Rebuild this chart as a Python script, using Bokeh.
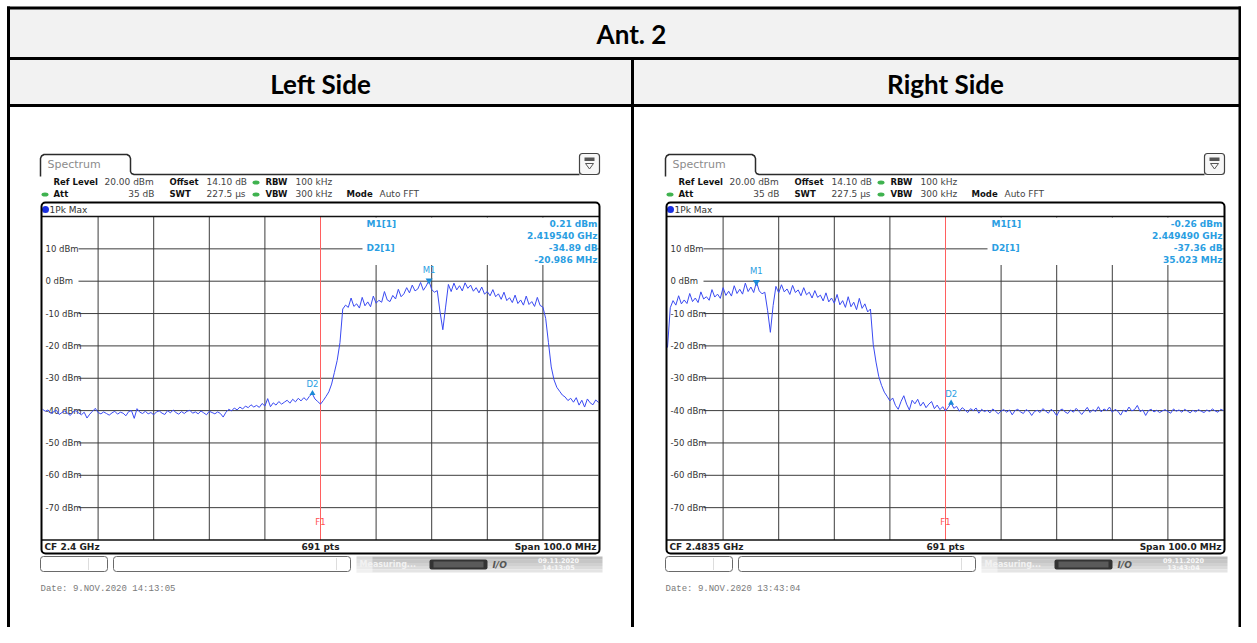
import numpy as np
from bokeh.plotting import figure
from bokeh.models import Range1d
from bokeh.core.properties import value
from bokeh.embed import file_html
from bokeh.resources import INLINE

# ---------------- data ----------------
TABLE_TITLE = "Ant. 2"
SIDE_TITLES = ["Left Side", "Right Side"]

SPANS_MHZ = [[2350.0, 2450.0], [2433.5, 2533.5]]

LEFT_DBM = [
    -39.6, -40.2, -39.8, -40.9, -40.3, -39.9, -41.2, -40.6, -40.1, -40.8,
    -41.5, -40.4, -40.0, -40.7, -41.3, -40.5, -42.3, -41.1, -40.2, -39.3,
    -40.6, -41.0, -40.4, -40.9, -41.4, -40.7, -40.2, -41.1, -40.5, -40.8,
    -41.6, -40.3, -40.0, -42.4, -39.4, -40.5, -40.9, -40.2, -41.0, -40.6,
    -41.3, -40.4, -40.1, -40.8, -41.2, -40.0, -40.7, -39.8, -40.6, -41.1,
    -40.3, -40.9, -40.2, -39.9, -40.8, -40.4, -41.0, -40.1, -40.7, -41.3,
    -40.2, -40.6, -41.0, -40.4, -40.9, -42.0, -40.5, -39.6, -40.1, -39.2,
    -39.8, -38.9, -39.5, -38.6, -39.1, -38.2, -38.9, -38.4, -39.0, -37.8,
    -38.6, -36.3, -38.8, -37.6, -38.3, -37.2, -38.0, -37.4, -36.8, -37.7,
    -36.5, -37.3, -36.2, -37.0, -36.0, -36.8, -35.6, -34.7, -36.4, -37.2,
    -38.0, -36.9, -35.6, -34.2, -31.8, -28.2, -24.5, -19.0, -8.6, -7.4,
    -8.1, -5.2, -7.8, -7.0, -8.3, -5.0, -7.6, -6.4, -7.9, -4.6,
    -6.8, -5.9, -6.5, -3.2, -5.8, -6.3, -4.4, -5.5, -2.5, -4.8,
    -3.9, -2.0, -3.6, -1.2, -3.0, -2.4, -0.4, -2.8, -1.5, 0.21,
    -2.6, -3.4, -2.9, -9.5, -15.0, -8.0, -1.0, -3.2, -0.6, -2.7,
    -1.4, -3.0, -0.5, -2.2, -1.2, -3.1, -2.0, -3.6, -1.8, -4.0,
    -3.2, -4.5, -2.6, -4.8, -3.9, -5.6, -3.4, -6.0, -5.1, -6.6,
    -4.3, -6.9, -5.8, -7.4, -4.6, -7.2, -6.3, -7.8, -5.0, -7.5,
    -8.0, -11.5, -19.0, -26.5, -30.5, -32.8, -34.0, -35.2, -35.8, -36.9,
    -36.2, -37.4, -36.0, -38.3, -36.8, -38.9, -36.4, -37.6, -38.2, -36.7,
    -37.5,
]

RIGHT_DBM = [
    -20.5, -8.2, -6.0, -7.4, -4.5, -7.0, -5.8, -6.9, -3.8, -6.3,
    -5.2, -6.6, -3.3, -5.5, -4.8, -5.9, -2.6, -4.9, -4.0, -5.3,
    -2.0, -4.4, -3.1, -4.6, -1.4, -3.8, -2.5, -4.0, -0.6, -3.2,
    -1.8, -3.5, -0.26, -3.0, -3.9, -3.4, -9.0, -15.8, -7.5, -1.6,
    -3.6, -1.1, -3.3, -2.4, -4.1, -1.3, -3.5, -2.7, -4.5, -2.0,
    -4.2, -3.4, -5.2, -2.9, -5.0, -4.3, -6.1, -3.6, -6.4, -5.2,
    -6.8, -4.1, -7.3, -6.0, -8.1, -4.8, -7.9, -6.5, -8.8, -5.3,
    -8.4, -7.0, -9.5, -8.6, -19.5, -25.0, -29.5, -32.2, -34.3, -35.6,
    -37.0, -36.1, -38.4, -39.6, -37.2, -35.4, -38.0, -39.8, -36.8, -37.9,
    -36.5, -38.6, -37.4, -39.1, -38.0, -37.2, -39.4, -38.3, -39.7, -38.8,
    -40.1, -39.0, -37.6, -39.3, -38.7, -40.2, -39.1, -39.8, -40.6, -39.4,
    -40.0, -39.2, -40.8, -39.6, -40.3, -39.9, -40.7, -39.5, -40.2, -41.0,
    -40.1, -39.7, -40.5, -39.8, -41.3, -40.0, -39.6, -40.4, -40.9, -39.7,
    -40.2, -41.5, -40.3, -39.9, -40.6, -39.4, -40.1, -40.8, -39.6, -40.3,
    -41.6, -40.0, -39.5, -40.4, -40.9, -39.8, -40.5, -39.3, -40.2, -41.2,
    -40.1, -39.0, -40.6, -39.7, -40.3, -38.8, -40.4, -39.5, -40.0, -38.9,
    -40.5, -39.6, -40.2, -41.4, -39.9, -40.4, -38.9, -40.1, -39.7, -38.4,
    -40.3, -39.8, -41.5, -40.0, -39.6, -40.4, -39.9, -40.6, -40.1, -39.7,
    -40.3, -40.8, -39.5, -40.2, -39.8, -40.5, -39.6, -40.1, -40.7, -39.9,
    -40.4, -39.7, -40.2, -40.6, -39.8, -40.3, -39.5, -40.1, -40.5, -39.6,
    -40.0,
]

F1_MHZ = [2400.0, 2483.5]
M1_MHZ = [2419.540, 2449.490]
M1_DBM = [0.21, -0.26]
D2_MHZ = [2398.554, 2484.513]
D2_DBM = [-34.68, -37.62]
MARKER_VALUES = [
    ["0.21 dBm", "2.419540 GHz", "-34.89 dB", "-20.986 MHz"],
    ["-0.26 dBm", "2.449490 GHz", "-37.36 dB", "35.023 MHz"],
]
CF_LABELS = ["CF 2.4 GHz", "CF 2.4835 GHz"]
DATE_LABELS = ["Date: 9.NOV.2020  14:13:05", "Date: 9.NOV.2020  13:43:04"]
STATUS_TIMES = ["14:13:05", "13:43:04"]
DB_TICKS = [10, 0, -10, -20, -30, -40, -50, -60, -70]
DB_TICK_LABELS = ["10 dBm", "0 dBm", "-10 dBm", "-20 dBm", "-30 dBm",
                  "-40 dBm", "-50 dBm", "-60 dBm", "-70 dBm"]
REF_DB, BOTTOM_DB = 20, -80

# ---------------- layout (pixels) ----------------
W, H = 1241, 627
OX, OY = 0, 0
PANEL_DX = [0, 625]
GX0, GX1 = 42, 598          # grid left / right
GY0, GY1 = 216, 539.5       # grid top (ref level) / bottom

p = figure(width=W, height=H, x_range=Range1d(OX, OX + W), y_range=Range1d(OY + H, OY),
           output_backend="svg", toolbar_location=None, tools="", min_border=0,
           x_axis_type=None, y_axis_type=None)
p.grid.visible = False
p.outline_line_color = None
p.background_fill_color = "white"
p.border_fill_color = "white"

db_per_px = (REF_DB - BOTTOM_DB) / (GY1 - GY0)
p.extra_y_ranges["db"] = Range1d(REF_DB - (OY + H - GY0) * db_per_px,
                                 REF_DB - (OY - GY0) * db_per_px)
for k, (fs, fe) in enumerate(SPANS_MHZ):
    gx0 = GX0 + PANEL_DX[k]
    a = (fe - fs) / (GX1 - GX0)
    p.extra_x_ranges[f"f{k}"] = Range1d(fs + (OX - gx0) * a, fs + (OX + W - gx0) * a)


def txt(x, y, s, size=8, style="normal", color="#333333", align="left",
        font="DejaVu Sans", xr="default", yr="default", baseline="middle", yoff=0):
    p.text(x=[x], y=[y], text=[s], text_font=value(font), text_font_size=f"{size}px",
           text_font_style=style, text_color=color, text_align=align,
           text_baseline=baseline, x_range_name=xr, y_range_name=yr, y_offset=yoff)


# ---------------- table ----------------
p.quad(left=8, right=W, top=8, bottom=105, fill_color="#f2f2f2", line_color=None)
TL = "#000000"
p.segment(x0=[6.5, 6.5, 6.5], y0=[7.5, 58, 105], x1=[W, W, W], y1=[7.5, 58, 105],
          line_color=TL, line_width=3)
p.segment(x0=[8, 1239.5, 632], y0=[6, 6, 58], x1=[8, 1239.5, 632], y1=[H, H, H],
          line_color=TL, line_width=3)
txt(631, 33.5, TABLE_TITLE, size=26, style="bold", color="#000000", align="center", font="Lato")
txt(320, 83, SIDE_TITLES[0], size=26, style="bold", color="#000000", align="center", font="Lato")
txt(945, 83, SIDE_TITLES[1], size=26, style="bold", color="#000000", align="center", font="Lato")

BLUE_TXT = "#2a9ee2"
GREEN = "#3fb24f"
GRID = "#3c3c3c"


def draw_panel(k, dbm):
    dx = PANEL_DX[k]
    fs, fe = SPANS_MHZ[k]
    fr = f"f{k}"
    a = (fe - fs) / (GX1 - GX0)
    # tab + header line
    p.line(x=[40 + dx, 40 + dx, 41 + dx, 43.5 + dx, 126.5 + dx, 129 + dx, 130 + dx, 130 + dx,
              131 + dx, 133.5 + dx, 579 + dx],
           y=[176, 158, 155.5, 154, 154, 155.5, 158, 171, 173, 174, 174],
           line_color="#2b2b2b", line_width=1.5)
    txt(47 + dx, 163.5, "Spectrum", size=11, color="#8c8c8c")
    # header fields
    for (x, s, st) in [(53, "Ref Level", "bold"), (104, "20.00 dBm", "normal"),
                       (169, "Offset", "bold"), (206, "14.10 dB", "normal"),
                       (265, "RBW", "bold"), (295, "100 kHz", "normal")]:
        txt(x + dx, 181.5, s, size=8.5 if st == "bold" else 9, style=st,
            color="#111111" if st == "bold" else "#444444")
    for (x, s, st) in [(53, "Att", "bold"), (169, "SWT", "bold"), (206, "227.5 µs", "normal"),
                       (265, "VBW", "bold"), (295, "300 kHz", "normal"),
                       (346, "Mode", "bold"), (379, "Auto FFT", "normal")]:
        txt(x + dx, 193.5, s, size=8.5 if st == "bold" else 9, style=st,
            color="#111111" if st == "bold" else "#444444")
    txt(154 + dx, 193.5, "35 dB", size=9, color="#444444", align="right")
    p.ellipse(x=[255.5 + dx, 255.5 + dx, 44.5 + dx], y=[182, 194, 194], width=7, height=4,
              fill_color=GREEN, line_color=None)
    # icon
    p.quad(left=579 + dx, right=599 + dx, top=153, bottom=174, border_radius=3,
           fill_color="#f7f7f7", line_color="#444444", line_width=1.2)
    p.quad(left=584 + dx, right=594 + dx, top=157, bottom=160.5, fill_color="#555555", line_color=None)
    p.patch(x=[585 + dx, 593 + dx, 589 + dx], y=[163, 163, 168.5], fill_color=None,
            line_color="#555555", line_width=1)
    # 1Pk Max row
    p.scatter(x=[45 + dx], y=[209], size=7, marker="circle", fill_color="#1a2fe0", line_color=None)
    txt(49 + dx, 209, "1Pk Max", size=9, color="#333333")
    # grid
    vf = [fs + (fe - fs) * i / 10 for i in range(1, 10)]
    p.segment(x0=vf, y0=[REF_DB] * 9, x1=vf, y1=[BOTTOM_DB] * 9, x_range_name=fr,
              y_range_name="db", line_color=GRID, line_width=1)
    p.segment(x0=[fs + 36 * a] * len(DB_TICKS), y0=DB_TICKS, x1=[fe] * len(DB_TICKS), y1=DB_TICKS,
              x_range_name=fr, y_range_name="db", line_color=GRID, line_width=1)
    for v, lab in zip(DB_TICKS, DB_TICK_LABELS):
        txt(fs + 3 * a, v, lab, size=8.5, color="#333333", xr=fr, yr="db")
    # F1 line
    p.segment(x0=[F1_MHZ[k]], y0=[REF_DB], x1=[F1_MHZ[k]], y1=[BOTTOM_DB], x_range_name=fr,
              y_range_name="db", line_color="#ff5f5f", line_width=1)
    txt(F1_MHZ[k], REF_DB - (521 - GY0) * db_per_px, "F1", size=8.5, color="#ff5050",
        align="center", xr=fr, yr="db")
    # marker info box
    p.quad(left=362 + dx, right=597 + dx, top=217, bottom=264.5, fill_color="white", line_color=None)
    txt(366 + dx, 223, "M1[1]", size=9, style="bold", color=BLUE_TXT)
    txt(366 + dx, 247, "D2[1]", size=9, style="bold", color=BLUE_TXT)
    for j, s in enumerate(MARKER_VALUES[k]):
        txt(597 + dx, 223 + 12 * j, s, size=9, style="bold", color=BLUE_TXT, align="right")
    # trace
    freqs = np.linspace(fs, fe, len(dbm))
    p.line(x=freqs, y=dbm, x_range_name=fr, y_range_name="db", line_color="#3a4af2", line_width=1)
    # markers
    p.scatter(x=[M1_MHZ[k]], y=[M1_DBM[k]], x_range_name=fr, y_range_name="db",
              marker="inverted_triangle", size=7, fill_color="#1b8ad6", line_color=None)
    txt(M1_MHZ[k], M1_DBM[k], "M1", size=8.5, color=BLUE_TXT, align="center", xr=fr, yr="db",
        baseline="bottom", yoff=-6)
    p.scatter(x=[D2_MHZ[k]], y=[D2_DBM[k]], x_range_name=fr, y_range_name="db",
              marker="triangle", size=6, fill_color="#1b8ad6", line_color=None)
    txt(D2_MHZ[k], D2_DBM[k], "D2", size=8.5, color=BLUE_TXT, align="center", xr=fr, yr="db",
        baseline="bottom", yoff=-4)
    # row separators and status row
    p.segment(x0=[41 + dx, 41 + dx], y0=[216, 539.5], x1=[599 + dx, 599 + dx], y1=[216, 539.5],
              line_color="#111111", line_width=1.5)
    txt(44 + dx, 546.5, CF_LABELS[k], size=9, style="bold", color="#222222")
    txt(320 + dx, 546.5, "691 pts", size=9, style="bold", color="#222222", align="center")
    txt(596 + dx, 546.5, "Span 100.0 MHz", size=9, style="bold", color="#222222", align="right")
    # window border
    p.quad(left=41 + dx, right=599 + dx, top=202, bottom=553, border_radius=4,
           fill_color=None, line_color="#000000", line_width=2)
    # bottom bar
    p.quad(left=[40 + dx, 113 + dx], right=[107 + dx, 350 + dx], top=[556, 556], bottom=[571, 571],
           border_radius=3, fill_color="white", line_color="#6a6a6a", line_width=1)
    p.segment(x0=[88 + dx, 336 + dx], y0=[557.5, 557.5], x1=[88 + dx, 336 + dx], y1=[569.5, 569.5],
              line_color="#dddddd", line_width=1)
    grays = ["#bcbcbc", "#c6c6c6", "#d0d0d0", "#dadada", "#e4e4e4"]
    for i, g in enumerate(grays):
        p.quad(left=356 + dx, right=602 + dx, top=556 + i * 3.2, bottom=556 + (i + 1) * 3.2,
               fill_color=g, line_color=None)
    p.quad(left=352 + dx, right=372 + dx, top=556, bottom=572, fill_color="white",
           fill_alpha=0.45, line_color=None)
    txt(359 + dx, 563.5, "Measuring...", size=8, style="bold", color="#f2f2f2")
    p.quad(left=429 + dx, right=487 + dx, top=559, bottom=569, border_radius=2,
           fill_color="#333333", line_color=None)
    p.quad(left=433 + dx, right=483 + dx, top=561, bottom=567, fill_color="#5a5a5a", line_color=None)
    txt(492 + dx, 564, "I/O", size=9, style="bold italic", color="#555555")
    txt(558 + dx, 560, "09.11.2020", size=6.5, style="bold", color="#f8f8f8", align="center")
    txt(558 + dx, 567.5, STATUS_TIMES[k], size=6.5, style="bold", color="#f8f8f8", align="center")
    # date line
    txt(40 + dx, 588.5, DATE_LABELS[k], size=9, color="#7a7a7a", font="Liberation Mono")


draw_panel(0, LEFT_DBM)
draw_panel(1, RIGHT_DBM)

open("out.html", "w").write(file_html(p, INLINE))
